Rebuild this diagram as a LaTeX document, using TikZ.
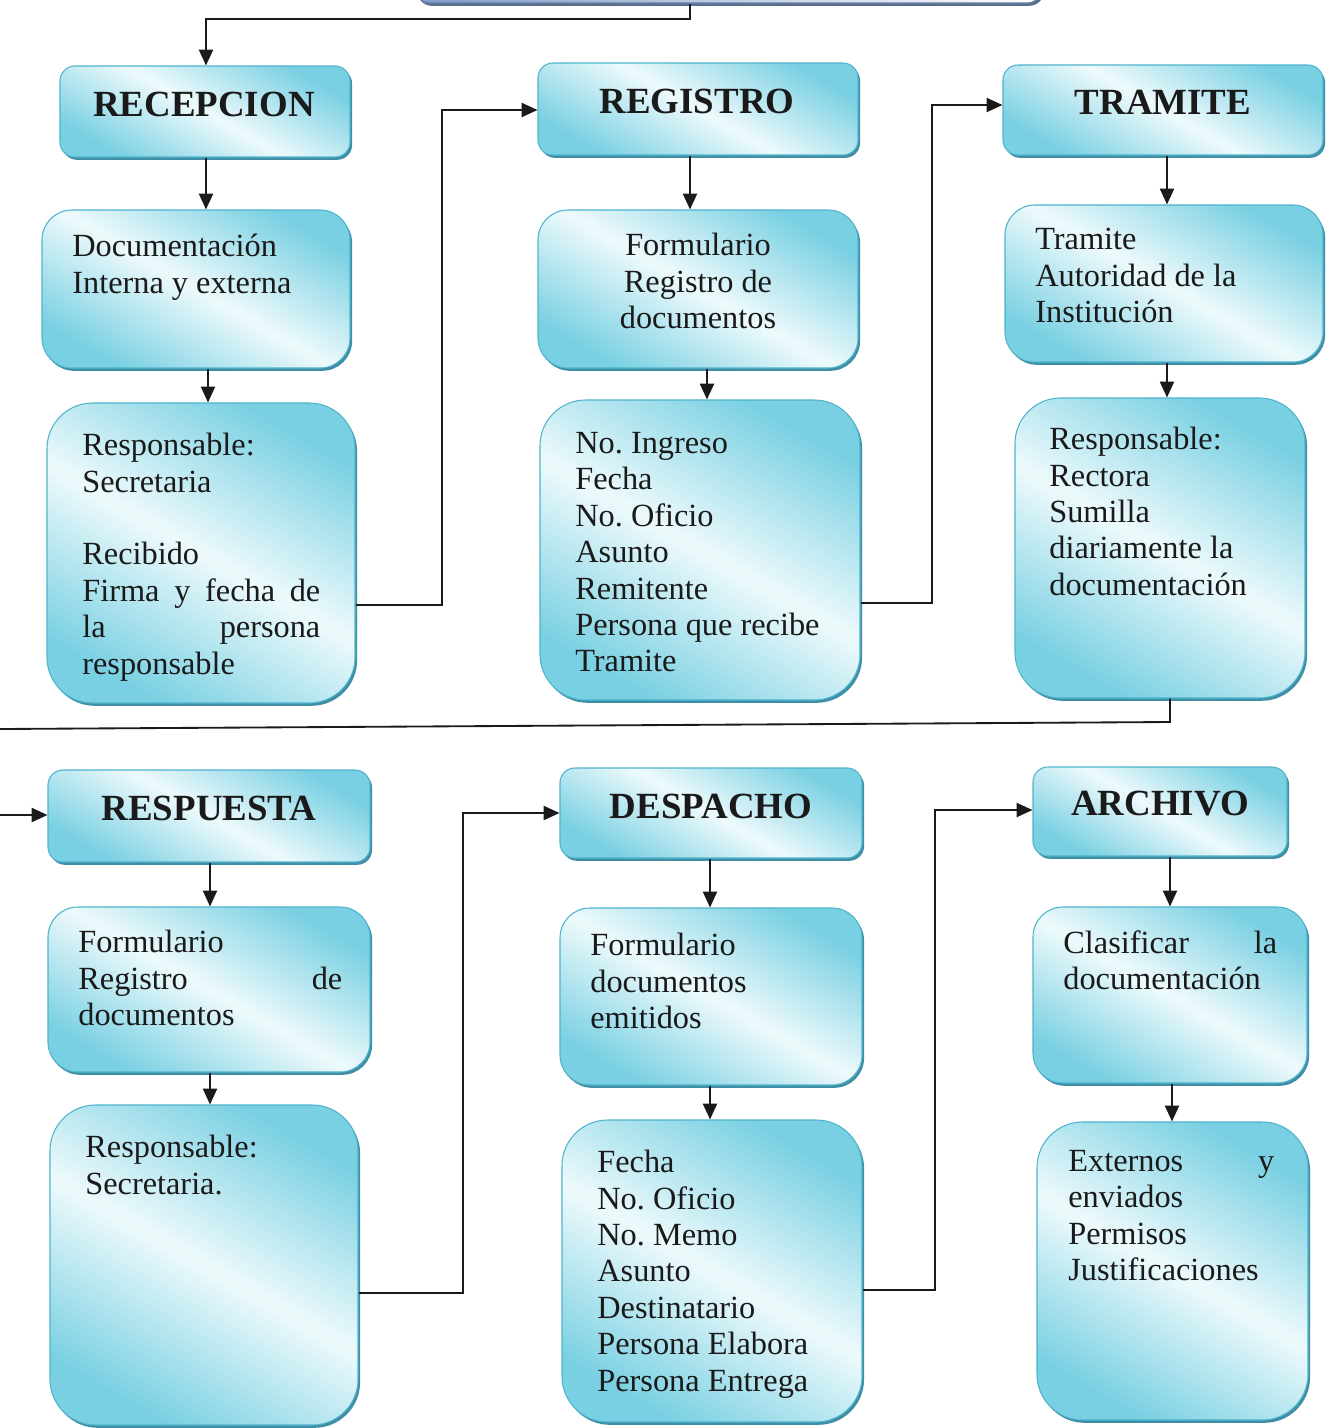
\documentclass[tikz,border=0pt]{standalone}
\usepackage{fontspec}
\setmainfont{Liberation Serif}
\usetikzlibrary{arrows.meta,shadows}
\definecolor{cyanbox}{HTML}{79D0E2}
\definecolor{cyanlight}{HTML}{EEFAFC}
\definecolor{boxedge}{HTML}{4FB3CC}
\definecolor{shadc}{HTML}{3E8FA6}
\definecolor{topblue}{HTML}{7F9CC9}
\definecolor{linec}{HTML}{1A1A1A}
\newcommand\spreadln[2]{\makebox[#1][s]{#2}}
\newcommand\bx[6]{\node[#1, minimum width={(#4-#2)*0.02cm}, minimum height={(#5-#3)*0.02cm}] (#6) at ({(#2+#4)/2},{(#3+#5)/2}) {};}
\begin{document}
\begin{tikzpicture}[x=0.02cm,y=-0.02cm,
 pbox/.style={draw=boxedge, line width=0.6pt, left color=cyanbox, right color=cyanbox, middle color=cyanlight, shading angle=-30,
   general shadow={fill=shadc, shadow xshift=1.2pt, shadow yshift=-1.6pt}, inner sep=0pt},
 hdr/.style={pbox, rounded corners=8.5pt},
 mid/.style={pbox, rounded corners=17pt},
 big/.style={pbox, rounded corners=26pt},
 topbx/.style={draw=topblue!80!black, line width=0.6pt, left color=topblue, right color=white, rounded corners=8.5pt, inner sep=0pt,
   general shadow={fill=topblue!70!black, shadow xshift=1.2pt, shadow yshift=-1.6pt}},
 htext/.style={font=\fontsize{21}{24}\selectfont\bfseries, inner sep=0pt, text=linec},
 btext/.style={font=\fontsize{18.4}{20.7}\selectfont, inner sep=0pt, anchor=north west, align=left, text=linec},
 conn/.style={line width=1.05pt, linec},
 arr/.style={conn, -{Triangle[length=9pt,width=8pt]}}
]
\useasboundingbox (0,0) rectangle (1328,1428);
\clip (0,0) rectangle (1328,1428);
\fill[white] (0,0) rectangle (1328,1428);

% top partially visible box
\bx{topbx}{415}{-60}{1042}{3}{topbox}

% headers
\bx{hdr}{60}{66}{350}{157}{rec}
\bx{hdr}{538}{63}{858}{155}{reg}
\bx{hdr}{1003}{65}{1323}{155}{tra}
\bx{hdr}{48}{770}{370}{862}{resp}
\bx{hdr}{560}{768}{862}{858}{des}
\bx{hdr}{1033}{767}{1287}{856}{arc}
% middle boxes
\bx{mid}{42}{210}{350}{368}{doc}
\bx{mid}{538}{210}{858}{368}{form1}
\bx{mid}{1005}{205}{1323}{362}{tram}
\bx{mid}{48}{907}{370}{1072}{form2}
\bx{mid}{560}{908}{862}{1085}{form3}
\bx{mid}{1033}{907}{1307}{1083}{clas}
% big boxes
\bx{big}{47}{403}{355}{703}{sec1}
\bx{big}{540}{400}{860}{700}{ing}
\bx{big}{1015}{398}{1305}{698}{rect}
\bx{big}{50}{1105}{358}{1425}{sec2}
\bx{big}{562}{1120}{862}{1422}{fecha}
\bx{big}{1037}{1122}{1308}{1420}{ext}

% header texts
\node[htext] (trec) at (204,104) {RECEPCION};
\node[htext] (treg) at (697,101) {REGISTRO};
\node[htext] (ttra) at (1163,102) {TRAMITE};
\node[htext] (tresp) at (209,808) {RESPUESTA};
\node[htext] (tdes) at (711,806) {DESPACHO};
\node[htext] (tarc) at (1160,804) {ARCHIVO};

% body texts
\node[btext] (tdoc) at (72,234) {Documentación\\Interna y externa};
\node[btext, align=center, anchor=north] (tform1) at (698,233) {Formulario\\Registro de\\documentos};
\node[btext] (ttram) at (1035,228) {Tramite\\Autoridad de la\\Institución};
\node[btext] (tsec1) at (82,433) {Responsable:\\Secretaria\\[20.7pt]Recibido\\\spreadln{4.76cm}{Firma y fecha de}\\\spreadln{4.76cm}{la persona}\\responsable};
\node[btext] (ting) at (575,432) {No.\ Ingreso\\Fecha\\No.\ Oficio\\Asunto\\Remitente\\Persona que recibe\\Tramite};
\node[btext] (trect) at (1049,427) {Responsable:\\Rectora\\Sumilla\\diariamente la\\documentación};
\node[btext] (tform2) at (78,930) {Formulario\\\spreadln{5.28cm}{Registro de}\\documentos};
\node[btext] (tform3) at (590,933) {Formulario\\documentos\\emitidos};
\node[btext] (tclas) at (1063,930) {\spreadln{4.28cm}{Clasificar la}\\documentación};
\node[btext] (tsec2) at (85,1135) {Responsable:\\Secretaria.};
\node[btext] (tfecha) at (597,1150) {Fecha\\No.\ Oficio\\No.\ Memo\\Asunto\\Destinatario\\Persona Elabora\\Persona Entrega};
\node[btext] (text) at (1068,1150) {\spreadln{4.12cm}{Externos y}\\enviados\\Permisos\\Justificaciones};

% connectors
\coordinate (offR) at (0,729);
\coordinate (inL) at (0,815);
\draw[arr] (topbox.south -| 690,0) -- (690,19) -- (206,19) -- (rec.north -| 206,0);
\draw[arr] (rec.south -| 206,0) -- (doc.north -| 206,0);
\draw[arr] (doc.south -| 208,0) -- (sec1.north -| 208,0);
\draw[arr] (sec1.east |- 0,605) -- (442,605) -- (442,110) -- (reg.west |- 0,110);
\draw[arr] (reg.south -| 690,0) -- (form1.north -| 690,0);
\draw[arr] (form1.south -| 707,0) -- (ing.north -| 707,0);
\draw[arr] (ing.east |- 0,603) -- (932,603) -- (932,105) -- (tra.west |- 0,105);
\draw[arr] (tra.south -| 1167,0) -- (tram.north -| 1167,0);
\draw[arr] (tram.south -| 1167,0) -- (rect.north -| 1167,0);
\draw[conn] (rect.south -| 1170,0) -- (1170,722) -- (offR);
\draw[arr] (inL) -- (resp.west |- 0,815);
\draw[arr] (resp.south -| 210,0) -- (form2.north -| 210,0);
\draw[arr] (form2.south -| 210,0) -- (sec2.north -| 210,0);
\draw[arr] (sec2.east |- 0,1293) -- (463,1293) -- (463,813) -- (des.west |- 0,813);
\draw[arr] (des.south -| 710,0) -- (form3.north -| 710,0);
\draw[arr] (form3.south -| 710,0) -- (fecha.north -| 710,0);
\draw[arr] (fecha.east |- 0,1290) -- (935,1290) -- (935,810) -- (arc.west |- 0,810);
\draw[arr] (arc.south -| 1170,0) -- (clas.north -| 1170,0);
\draw[arr] (clas.south -| 1172,0) -- (ext.north -| 1172,0);
\end{tikzpicture}
\end{document}
